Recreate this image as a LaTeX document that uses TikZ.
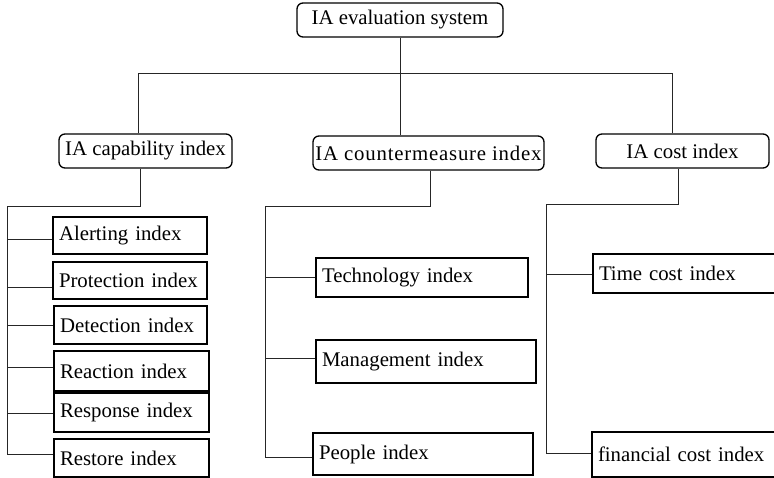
\documentclass[tikz,border=0pt]{standalone}
\usepackage{fontspec}
\setmainfont{Liberation Serif}
\begin{document}
\begin{tikzpicture}[x=1pt,y=-1pt,
  topbox/.style={draw, line width=1.3pt, rounded corners=6pt, inner sep=0pt,
    font=\fontsize{20.8}{24}\selectfont},
  childbox/.style={draw, line width=1.3pt, inner xsep=6pt, inner ysep=0pt, align=left,
    font=\fontsize{20.8}{24}\selectfont},
  conn/.style={line width=0.8pt, black!85}]
\clip (0,0) rectangle (774,478);
% top level
\node[topbox, minimum width=206pt, minimum height=34pt] (top) at (400,20) {IA evaluation system};
\node[topbox, minimum width=173pt, minimum height=34pt] (cap) at (145.5,151) {IA capability index};
\node[topbox, minimum width=231pt, minimum height=34pt] (cm) at (428.5,153) {\addfontfeature{LetterSpace=3.8}IA countermeasure index};
\node[topbox, minimum width=173pt, minimum height=34pt] (cost) at (682.5,151) {IA cost index};
% capability children
\node[childbox, text width=142pt, minimum height=37pt] (alert) at (130,235.5) {Alerting index};
\node[childbox, text width=142pt, minimum height=37pt] (prot) at (130,280.5) {Protection index};
\node[childbox, text width=141pt, minimum height=38pt] (detect) at (130.5,325) {Detection index};
\node[childbox, text width=143pt, minimum height=40pt] (react) at (131.5,371) {Reaction index};
\node[childbox, text width=143pt, minimum height=39pt] (resp) at (131.5,412.5) {Response index};
\node[childbox, text width=143pt, minimum height=38pt] (rest) at (131.5,458) {Restore index};
% countermeasure children
\node[childbox, text width=200pt, minimum height=39pt] (tech) at (422,277.5) {Technology index};
\node[childbox, text width=208pt, minimum height=43pt] (mgmt) at (426,361.5) {Management index};
\node[childbox, text width=208pt, minimum height=42pt] (people) at (423,454) {People index};
% cost children
\node[childbox, text width=195pt, minimum height=39pt] (time) at (696.5,273.5) {Time cost index};
\node[childbox, text width=196pt, minimum height=45pt] (fin) at (696,454.5) {financial cost index};
% top connectors
\coordinate (busL) at (138,73);
\coordinate (busR) at (672,73);
\draw[conn] (top.south) -- (top.south |- cm.north);
\draw[conn] (busL |- cap.north) -- (busL) -- (busR) -- (busR |- cost.north);
% capability tree
\coordinate (capA) at (140,206);
\coordinate (capL) at (7,206);
\draw[conn] (capA |- cap.south) -- (capA) -- (capL) -- (7,454);
\draw[conn] (7,239) -- (alert.west |- 7,239);
\draw[conn] (7,287) -- (prot.west |- 7,287);
\draw[conn] (7,325) -- (detect.west |- 7,325);
\draw[conn] (7,367) -- (react.west |- 7,367);
\draw[conn] (7,413) -- (resp.west |- 7,413);
\draw[conn] (7,454) -- (rest.west |- 7,454);
% countermeasure tree
\coordinate (cmA) at (430,206);
\coordinate (cmL) at (265,206);
\draw[conn] (cmA |- cm.south) -- (cmA) -- (cmL) -- (265,457);
\draw[conn] (265,277) -- (tech.west |- 265,277);
\draw[conn] (265,358) -- (mgmt.west |- 265,358);
\draw[conn] (265,457) -- (people.west |- 265,457);
% cost tree
\coordinate (coA) at (678,204);
\coordinate (coL) at (546,204);
\draw[conn] (coA |- cost.south) -- (coA) -- (coL) -- (546,453);
\draw[conn] (546,274) -- (time.west |- 546,274);
\draw[conn] (546,453) -- (fin.west |- 546,453);
\end{tikzpicture}
\end{document}
